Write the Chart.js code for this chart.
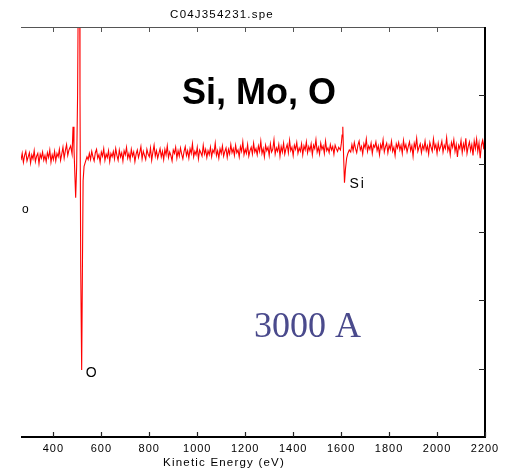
<!DOCTYPE html>
<html><head><meta charset="utf-8">
<script src="https://cdn.jsdelivr.net/npm/chart.js@4"></script>
<style>html,body{margin:0;padding:0;background:#fff}</style>
</head><body>
<canvas id="c" width="508" height="470"></canvas>
<script>
// Kinetic energy (eV)
const energy = [
  265,270,275,280,285,290,295,300,305,310,315,320,325,330,335,340,345,350,355,360,
  365,370,375,380,385,390,395,400,405,410,415,420,425,430,435,440,445,450,455,460,
  465,
  472,478,482,486,490,493,497,501,505,508,511,514,518,521,524,528,533,540,545,
  550,555,560,565,570,575,580,585,590,595,600,605,610,615,620,625,630,635,640,645,
  650,655,660,665,670,675,680,685,690,695,700,705,710,715,720,725,730,735,740,745,
  750,755,760,765,770,775,780,785,790,795,800,805,810,815,820,825,830,835,840,845,
  850,855,860,865,870,875,880,885,890,895,900,905,910,915,920,925,930,935,940,945,
  950,955,960,965,970,975,980,985,990,995,1000,1005,1010,1015,1020,1025,1030,1035,1040,1045,
  1050,1055,1060,1065,1070,1075,1080,1085,1090,1095,1100,1105,1110,1115,1120,1125,1130,1135,1140,1145,
  1150,1155,1160,1165,1170,1175,1180,1185,1190,1195,1200,1205,1210,1215,1220,1225,1230,1235,1240,1245,
  1250,1255,1260,1265,1270,1275,1280,1285,1290,1295,1300,1305,1310,1315,1320,1325,1330,1335,1340,1345,
  1350,1355,1360,1365,1370,1375,1380,1385,1390,1395,1400,1405,1410,1415,1420,1425,1430,1435,1440,1445,
  1450,1455,1460,1465,1470,1475,1480,1485,1490,1495,1500,1505,1510,1515,1520,1525,1530,1535,1540,1545,
  1550,1555,1560,1565,1570,1575,1580,1585,1590,
  1597,1601,1604,1607,1610,1614,1618,1623,1628,1634,1640,
  1645,1650,1655,1660,1665,1670,1675,1680,1685,1690,1695,1700,1705,1710,1715,1720,1725,1730,1735,1740,
  1745,1750,1755,1760,1765,1770,1775,1780,1785,1790,1795,1800,1805,1810,1815,1820,1825,1830,1835,1840,
  1845,1850,1855,1860,1865,1870,1875,1880,1885,1890,1895,1900,1905,1910,1915,1920,1925,1930,1935,1940,
  1945,1950,1955,1960,1965,1970,1975,1980,1985,1990,1995,2000,2005,2010,2015,2020,2025,2030,2035,2040,
  2045,2050,2055,2060,2065,2070,2075,2080,2085,2090,2095,2100,2105,2110,2115,2120,2125,2130,2135,2140,
  2145,2150,2155,2160,2165,2170,2175,2180,2185,2190,2195,
  2200
];
// Derivative Auger signal (arbitrary units)
const intensity = [
  4.05,4.15,4.02,4.12,4.18,4.04,4.10,4.16,4.01,4.13,4.07,4.19,4.03,4.11,4.15,4.00,4.14,4.08,4.17,4.05,
  4.12,4.03,4.16,4.09,4.20,4.02,4.13,4.06,4.18,4.04,4.15,4.10,4.21,4.05,4.14,4.24,4.08,4.19,4.28,4.12,
  4.20,
  4.26,4.14,4.54,4.22,3.80,3.50,3.95,5.00,7.20,9.00,5.00,2.50,0.98,2.40,3.75,3.96,4.02,4.10,4.06,
  4.15,4.06,4.18,4.10,4.04,4.16,4.21,4.08,4.13,4.02,4.17,4.11,4.22,4.05,4.14,4.09,4.19,4.03,4.15,4.10,
  4.18,4.07,4.22,4.12,4.05,4.20,4.10,4.16,4.04,4.19,4.13,4.24,4.08,4.15,4.06,4.21,4.11,4.17,4.03,4.14,
  4.20,4.09,4.16,4.25,4.07,4.18,4.12,4.06,4.21,4.14,4.10,4.23,4.05,4.17,4.27,4.11,4.19,4.08,4.15,4.22,
  4.10,4.18,4.06,4.21,4.13,4.26,4.09,4.17,4.12,4.04,4.20,4.15,4.24,4.08,4.19,4.11,4.23,4.14,4.07,4.18,
  4.25,4.12,4.19,4.08,4.22,4.15,4.29,4.10,4.18,4.13,4.24,4.07,4.20,4.16,4.11,4.27,4.14,4.21,4.09,4.19,
  4.13,4.24,4.10,4.20,4.16,4.30,4.12,4.19,4.08,4.22,4.15,4.26,4.11,4.18,4.23,4.09,4.21,4.14,4.28,4.16,
  4.22,4.12,4.27,4.16,4.20,4.10,4.25,4.18,4.32,4.13,4.21,4.15,4.28,4.11,4.19,4.24,4.14,4.30,4.17,4.22,
  4.13,4.26,4.18,4.33,4.15,4.22,4.10,4.27,4.19,4.24,4.12,4.29,4.17,4.21,4.35,4.14,4.23,4.18,4.28,4.11,
  4.25,4.17,4.30,4.14,4.22,4.28,4.16,4.34,4.19,4.24,4.12,4.27,4.21,4.31,4.15,4.23,4.18,4.29,4.13,4.26,
  4.20,4.32,4.16,4.25,4.19,4.29,4.13,4.27,4.22,4.35,4.17,4.24,4.14,4.30,4.21,4.26,4.15,4.33,4.19,4.23,
  4.16,4.28,4.20,4.25,4.14,4.27,4.22,4.18,4.24,
  4.20,4.30,4.42,4.54,4.15,3.72,3.92,4.08,4.15,4.20,4.17,
  4.28,4.19,4.31,4.22,4.16,4.27,4.33,4.20,4.25,4.14,4.29,4.23,4.36,4.18,4.26,4.21,4.30,4.15,4.27,4.24,
  4.32,4.19,4.26,4.13,4.28,4.22,4.35,4.17,4.25,4.30,4.16,4.27,4.21,4.33,4.18,4.24,4.12,4.29,4.23,4.31,
  4.20,4.27,4.15,4.34,4.22,4.28,4.17,4.25,4.32,4.19,4.26,4.11,4.30,4.23,4.37,4.18,4.24,4.29,4.16,4.27,
  4.21,4.33,4.19,4.26,4.14,4.31,4.24,4.18,4.36,4.22,4.28,4.15,4.30,4.20,4.25,4.33,4.17,4.27,4.22,4.38,
  4.19,4.26,4.13,4.31,4.24,4.35,4.18,4.28,4.10,4.27,4.22,4.34,4.16,4.29,4.21,4.37,4.15,4.25,4.32,4.19,
  4.28,4.12,4.33,4.22,4.36,4.18,4.30,4.08,4.27,4.34,4.21,
  4.48
];
const xTicks = [400,600,800,1000,1200,1400,1600,1800,2000,2200];
const yTicks = [1,2,3,4,5];
const peakLabels = [{text:'O', x:518, y:0.98}, {text:'Si', x:1614, y:3.72}];

const SANS = '"Liberation Sans", Arial, sans-serif';
const SERIF = '"Liberation Serif", "Times New Roman", serif';

const frame = {
  id: 'frame',
  beforeDraw(chart){ chart.ctx.letterSpacing = '1px'; },
  afterDraw(chart){
    const {ctx, chartArea:a, scales:{x, y}} = chart;
    ctx.save();
    ctx.strokeStyle = '#555'; ctx.lineWidth = 1;
    ctx.beginPath();
    ctx.moveTo(a.left, a.top + 0.5); ctx.lineTo(a.right, a.top + 0.5);
    xTicks.forEach(v => { const px = Math.round(x.getPixelForValue(v)) + 0.5; ctx.moveTo(px, a.top); ctx.lineTo(px, a.top + 5); });
    ctx.stroke();
    ctx.fillStyle = '#000';
    ctx.fillRect(a.left, a.bottom - 1, a.right - a.left + 1, 2);
    ctx.fillRect(a.right - 1, a.top, 2, a.bottom - a.top + 1);
    ctx.strokeStyle = '#222'; ctx.lineWidth = 1.2;
    ctx.beginPath();
    xTicks.forEach(v => { const px = Math.round(x.getPixelForValue(v)) + 0.5; ctx.moveTo(px, a.bottom); ctx.lineTo(px, a.bottom - 5); });
    yTicks.forEach(v => { const py = Math.round(y.getPixelForValue(v)) + 0.5; ctx.moveTo(a.right, py); ctx.lineTo(a.right - 6, py); });
    ctx.stroke();

    ctx.fillStyle = '#000';
    ctx.textBaseline = 'alphabetic';
    ctx.textAlign = 'center';
    ctx.letterSpacing = '1.2px';
    ctx.font = '11.5px ' + SANS;
    ctx.fillText('C04J354231.spe', 222, 18);
    ctx.fillText('Kinetic Energy (eV)', 224, 466);

    ctx.letterSpacing = '0px';
    ctx.font = 'bold 36px ' + SANS;
    ctx.fillText('Si, Mo, O', 259, 104);

    ctx.textAlign = 'left';
    ctx.fillStyle = 'rgb(74,74,140)';
    ctx.font = '36px ' + SERIF;
    ctx.fillText('3000 A', 254, 337);

    ctx.fillStyle = '#000';
    ctx.font = '14px ' + SANS;
    ctx.letterSpacing = '2px';
    const o = peakLabels[0], s = peakLabels[1];
    ctx.fillText(o.text, x.getPixelForValue(o.x) + 4, y.getPixelForValue(o.y) + 7);
    ctx.fillText(s.text, x.getPixelForValue(s.x) + 5, y.getPixelForValue(s.y) + 5);

    ctx.letterSpacing = '0px';
    ctx.font = '12px ' + SANS;
    ctx.fillText('o', 22, 213);
    ctx.restore();
  }
};

new Chart(document.getElementById('c'), {
  type: 'line',
  data: { datasets: [{
    data: energy.map((e, i) => ({x: e, y: intensity[i]})),
    borderColor: '#ff0000', borderWidth: 1.1, pointRadius: 0, tension: 0, fill: false
  }]},
  options: {
    responsive: false, animation: false, events: [],
    layout: { padding: { left: 21, right: 23, top: 27, bottom: 0 } },
    plugins: { legend: { display: false }, tooltip: { enabled: false } },
    scales: {
      x: {
        type: 'linear', min: 265, max: 2200,
        afterBuildTicks: s => { s.ticks = xTicks.map(v => ({value: v})); },
        afterFit: s => { s.height = 33; },
        grid: { display: false, drawTicks: false },
        border: { display: false },
        ticks: { padding: 5, color: '#000', autoSkip: false, maxRotation: 0,
                 callback: v => String(v),
                 font: { family: SANS, size: 11 } }
      },
      y: { display: false, min: 0, max: 6 }
    }
  },
  plugins: [frame]
});
</script>
</body></html>
